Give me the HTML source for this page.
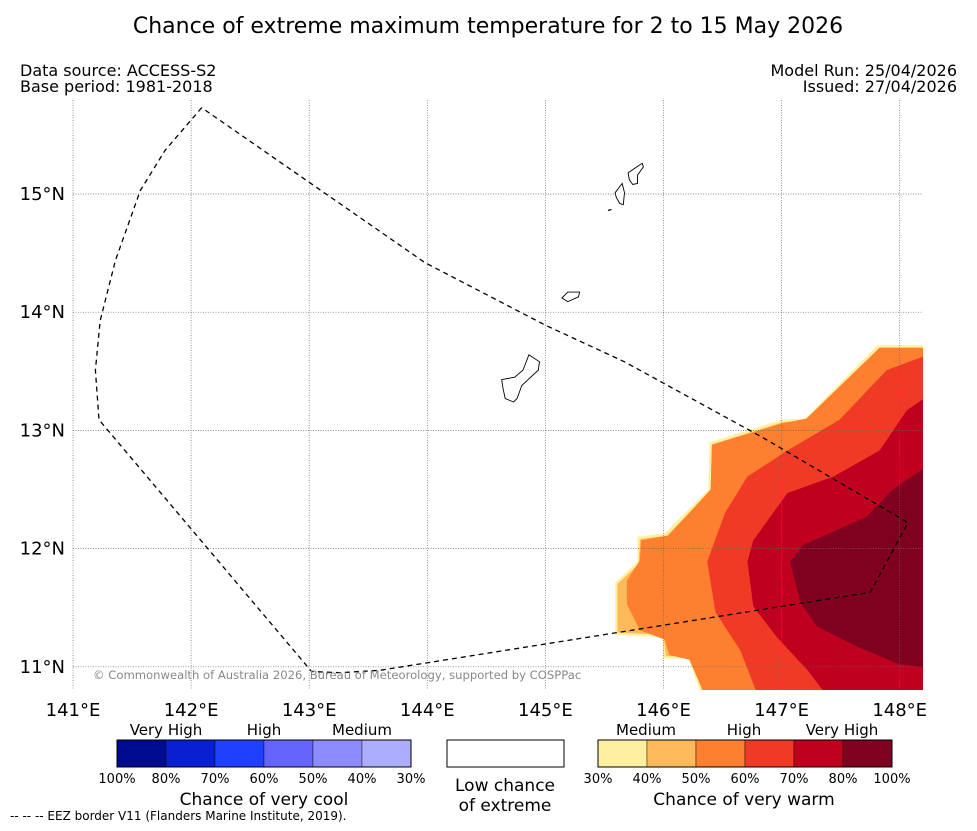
<!DOCTYPE html>
<html><head><meta charset="utf-8"><style>
body{margin:0;background:#fff;font-family:"DejaVu Sans","Liberation Sans",sans-serif;}
svg text{font-family:"DejaVu Sans","Liberation Sans",sans-serif;}
</style></head><body>
<svg id="chart" width="977" height="827" viewBox="0 0 977 827" xmlns="http://www.w3.org/2000/svg">
<text x="488" y="33" font-size="22" text-anchor="middle">Chance of extreme maximum temperature for 2 to 15 May 2026</text>
<text x="20" y="76" font-size="16">Data source: ACCESS-S2</text>
<text x="20" y="92" font-size="16">Base period: 1981-2018</text>
<text x="957" y="76" font-size="16" text-anchor="end">Model Run: 25/04/2026</text>
<text x="957" y="92" font-size="16" text-anchor="end">Issued: 27/04/2026</text>
<defs><clipPath id="mapclip"><rect x="73" y="100" width="850" height="590"/></clipPath></defs>
<g id="contours" clip-path="url(#mapclip)"></g>
<g id="grid"></g>
<g id="land" clip-path="url(#mapclip)"></g>
<g id="eez" clip-path="url(#mapclip)"></g>
<text x="93" y="679" font-size="11.6" fill="#888">© Commonwealth of Australia 2026, Bureau of Meteorology, supported by COSPPac</text>
<g id="ticks"></g>
<g id="legend"></g>
</svg>
<script>
const lonTicks=[141,142,143,144,145,146,147,148];
const latTicks=[11,12,13,14,15];
const levels=["30%","40%","50%","60%","70%","80%"];
const warmColors=["#fff0a0","#fdb95a","#fd7f30","#ef3b25","#c0001f","#800020"];
const coolColors=["#000c90","#0820d0","#2040ff","#6464ff","#8c8cff","#adadff"];
const c30=[[148.2,13.72],[147.81,13.72],[147.2,13.10],[147.0,13.09],[146.39,12.90],[146.38,12.50],[146.01,12.13],[145.78,12.10],[145.78,11.89],[145.59,11.71],[145.59,11.27],[145.99,11.25],[146.0,11.07],[146.21,11.07],[146.38,10.6],[148.4,10.6],[148.4,13.72]];
const c40=[[148.2,13.70],[147.83,13.70],[147.21,13.08],[147.01,13.07],[146.41,12.88],[146.40,12.49],[146.03,12.11],[145.80,12.08],[145.79,11.87],[145.61,11.70],[145.61,11.29],[146.0,11.27],[146.02,11.09],[146.22,11.09],[146.40,10.6],[148.4,10.6],[148.4,13.70]];
const c50=[[148.4,13.70],[147.83,13.70],[147.21,13.10],[147.01,13.06],[146.41,12.88],[146.40,12.50],[146.04,12.11],[145.81,12.07],[145.80,11.90],[145.69,11.73],[145.69,11.53],[145.80,11.31],[146.01,11.23],[146.05,11.10],[146.22,11.06],[146.42,10.6],[148.4,10.6]];
const c60=[[148.4,13.70],[147.89,13.51],[147.49,13.09],[147.05,12.83],[146.71,12.61],[146.52,12.30],[146.37,11.89],[146.44,11.46],[146.65,11.14],[146.86,10.6],[148.4,10.6]];
const c70=[[148.4,13.40],[148.06,13.17],[147.83,12.83],[147.44,12.61],[147.05,12.47],[146.76,12.07],[146.71,11.89],[146.76,11.51],[146.96,11.25],[147.22,10.97],[147.5,10.6],[148.4,10.6]];
const c80=[[148.4,12.81],[147.94,12.50],[147.72,12.27],[147.18,12.03],[147.07,11.89],[147.16,11.54],[147.30,11.34],[147.64,11.17],[148.0,11.02],[148.4,10.97]];
const eezBorder=[[142.09,15.73],[141.78,15.37],[141.57,15.03],[141.36,14.44],[141.23,13.93],[141.19,13.51],[141.22,13.09],[143.02,10.96],[143.26,10.95],[143.60,10.97],[147.75,11.63],[148.07,12.22],[146.84,12.94],[145.67,13.58],[145.0,13.89],[143.98,14.42],[142.09,15.73]];
const guam=[[144.86,13.64],[144.95,13.58],[144.94,13.51],[144.80,13.38],[144.76,13.27],[144.73,13.24],[144.66,13.27],[144.64,13.36],[144.63,13.43],[144.74,13.45],[144.81,13.51]];
const rota=[[145.14,14.12],[145.19,14.17],[145.29,14.17],[145.28,14.13],[145.19,14.09]];
const tinian=[[145.59,15.01],[145.65,15.09],[145.67,15.01],[145.66,14.91],[145.63,14.92],[145.60,14.97]];
const saipan=[[145.70,15.18],[145.82,15.26],[145.83,15.23],[145.78,15.16],[145.78,15.09],[145.74,15.08],[145.71,15.12]];
const aguijan=[[145.53,14.86],[145.56,14.87]];

const NS="http://www.w3.org/2000/svg";
function X(lon){return 73+(lon-141)*118.1;}
function Y(lat){return 194-(lat-15)*118.2;}
function mk(tag,attrs,parent){const e=document.createElementNS(NS,tag);for(const k in attrs)e.setAttribute(k,attrs[k]);parent.appendChild(e);return e;}
function pts(a){return a.map(p=>X(p[0]).toFixed(1)+","+Y(p[1]).toFixed(1)).join(" ");}

const cg=document.getElementById("contours");
[c30,c40,c50,c60,c70,c80].forEach((poly,i)=>{
  const e=mk("polygon",{points:pts(poly),fill:warmColors[i]},cg);
  
  
});
const gg=document.getElementById("grid");
lonTicks.forEach(l=>{
  const e=mk("line",{x1:X(l),x2:X(l),y1:100,y2:690,stroke:"#666","stroke-width":0.7,"stroke-dasharray":"1,1.5"},gg);
  
  
});
latTicks.forEach(l=>{
  const e=mk("line",{x1:73,x2:923,y1:Y(l),y2:Y(l),stroke:"#666","stroke-width":0.7,"stroke-dasharray":"1,1.5"},gg);
  
  
});
const lg=document.getElementById("land");
[["guam",guam],["rota",rota],["tinian",tinian],["saipan",saipan]].forEach(([n,a])=>{
  const e=mk("polygon",{points:pts(a),fill:"#fff",stroke:"#000","stroke-width":0.9},lg);
  
  
});
{const e=mk("polyline",{points:pts(aguijan),fill:"none",stroke:"#000","stroke-width":1.2},lg);

}
{const e=mk("polyline",{points:pts(eezBorder),fill:"none",stroke:"#000","stroke-width":1.3,"stroke-dasharray":"5,4"},document.getElementById("eez"));

}
const tg=document.getElementById("ticks");
lonTicks.forEach(l=>{
  const t=mk("text",{x:X(l),y:716,"font-size":18,"text-anchor":"middle"},tg);t.textContent=l+"°E";
  
  
});
latTicks.forEach(l=>{
  const t=mk("text",{x:65,y:Y(l)+6,"font-size":18,"text-anchor":"end"},tg);t.textContent=l+"°N";
  
  
});
const L=document.getElementById("legend");
function txt(x,y,s,size,anchor,name){const t=mk("text",{x:x,y:y,"font-size":size,"text-anchor":anchor},L);t.textContent=s;return t;}
const coolLabels=["100%","80%","70%","60%","50%","40%","30%"];
const warmLabels=["30%","40%","50%","60%","70%","80%","100%"];
coolColors.forEach((c,i)=>{const r=mk("rect",{x:117+i*49,y:740,width:49,height:27,fill:c,stroke:"#000","stroke-width":0.4},L);
});
mk("rect",{x:117,y:740,width:294,height:27,fill:"none",stroke:"#000","stroke-width":1},L);
coolLabels.forEach((s,i)=>txt(117+i*49,783,s,13,"middle","cool-legend-label"));
warmColors.forEach((c,i)=>{const r=mk("rect",{x:598+i*49,y:740,width:49,height:27,fill:c,stroke:"#000","stroke-width":0.4},L);
});
mk("rect",{x:598,y:740,width:294,height:27,fill:"none",stroke:"#000","stroke-width":1},L);
warmLabels.forEach((s,i)=>txt(598+i*49,783,s,13,"middle","warm-legend-label"));
{const r=mk("rect",{x:447,y:740,width:117,height:27,fill:"#fff",stroke:"#000","stroke-width":1},L);}
txt(166,735,"Very High",15,"middle","cool-very-high");
txt(264,735,"High",15,"middle","cool-high");
txt(362,735,"Medium",15,"middle","cool-medium");
txt(646,735,"Medium",15,"middle","warm-medium");
txt(744,735,"High",15,"middle","warm-high");
txt(842,735,"Very High",15,"middle","warm-very-high");
txt(264,805,"Chance of very cool",17,"middle","cool-legend-title");
txt(744,805,"Chance of very warm",17,"middle","warm-legend-title");
txt(505,791,"Low chance",17,"middle","low-chance-title");
txt(505,811,"of extreme",17,"middle","low-chance-title-2");
txt(10,820,"--  --  -- EEZ border V11 (Flanders Marine Institute, 2019).",12,"start","eez-footnote");
</script>
</body></html>
